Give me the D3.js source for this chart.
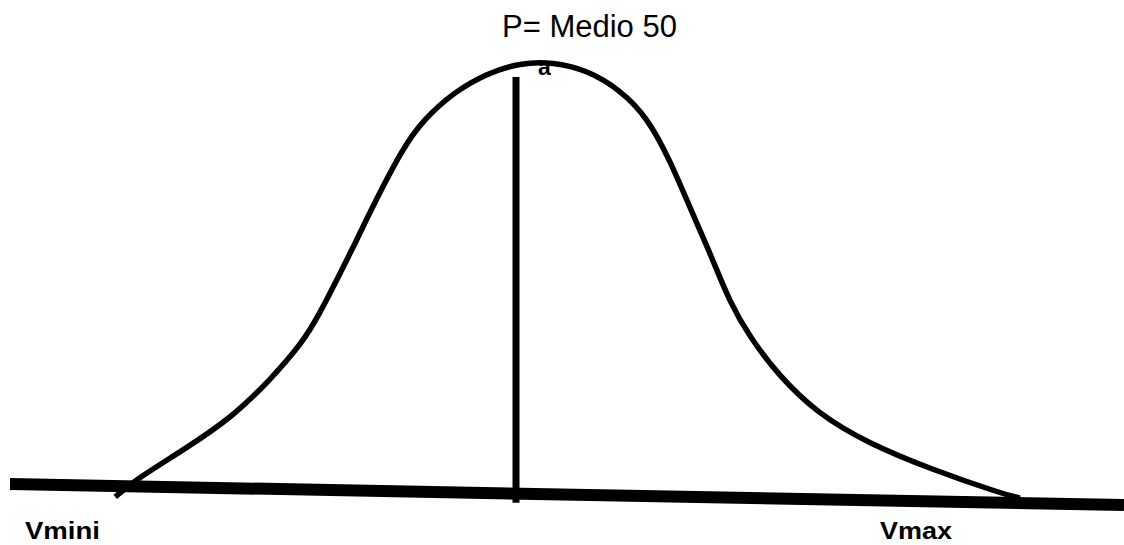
<!DOCTYPE html>
<html>
<head>
<meta charset="utf-8">
<script src="https://cdn.jsdelivr.net/npm/d3@7"></script>
<style>
  html, body { margin: 0; padding: 0; background: #fff; }
  svg { display: block; }
  text { font-family: "Liberation Sans", Arial, sans-serif; fill: #000; }
</style>
</head>
<body>
<script>
// Bell curve sketch: value axis from Vmini to Vmax, mean marked at 50.
const curveX = [-0.1, 2.6, 8.4, 14.6, 19.25, 23.4, 25.5, 27.6, 30.1, 31.75, 35.9, 38.4, 42.1, 46.4, 50.5,
                54.6, 58.9, 63.0, 66.4, 69.25, 72.4, 74.25, 76.75, 79.25, 82.75, 87.6, 93.9, 102.1, 110.5, 113.0];
const curveY = [-1.6, 2.6, 9.3, 17.1, 25.7, 34.6, 41.4, 49.1, 58.4, 65.0, 80.1, 86.4, 92.8, 97.4, 99.8,
                100.0, 98.1, 93.5, 87.1, 77.1, 63.1, 55.4, 43.7, 35.7, 26.9, 18.0, 11.0, 4.7, -0.7, -1.9];

// Base axis (slightly tilted) and the mean marker
const axisX = [-13.25, 126];
const axisY = [1.4, -3.5];
const meanX = 50;
const meanY = [96.5, -3.0];

const labels = { title: "P= Medio 50", peak: "a", min: "Vmini", max: "Vmax" };

const W = 1124, H = 545;
const x = d3.scaleLinear().domain([0, 100]).range([116, 916]);
const y = d3.scaleLinear().domain([0, 100]).range([490, 62]);

const svg = d3.select("body").append("svg").attr("width", W).attr("height", H);

// Labels drawn first so strokes sit on top
svg.append("text").attr("x", 502).attr("y", 37)
  .attr("font-size", 31).text(labels.title);
svg.append("text").attr("x", 538).attr("y", 75)
  .attr("font-size", 23).attr("font-weight", "bold").text(labels.peak);
svg.append("text").attr("x", 25).attr("y", 539)
  .attr("font-size", 24).attr("font-weight", "bold")
  .attr("textLength", 75).attr("lengthAdjust", "spacingAndGlyphs").text(labels.min);
svg.append("text").attr("x", 880).attr("y", 539)
  .attr("font-size", 24).attr("font-weight", "bold")
  .attr("textLength", 72).attr("lengthAdjust", "spacingAndGlyphs").text(labels.max);

// Base axis
svg.append("line")
  .attr("x1", x(axisX[0])).attr("y1", y(axisY[0]))
  .attr("x2", x(axisX[1])).attr("y2", y(axisY[1]))
  .attr("stroke", "#000").attr("stroke-width", 12);

// Mean line
svg.append("line")
  .attr("x1", x(meanX)).attr("y1", y(meanY[0]))
  .attr("x2", x(meanX)).attr("y2", y(meanY[1]))
  .attr("stroke", "#000").attr("stroke-width", 7);

// Bell curve, smoothed through the traced points
const pts = curveX.map((v, i) => [v, curveY[i]]);
const line = d3.line().x(d => x(d[0])).y(d => y(d[1])).curve(d3.curveBasis);
svg.append("path").datum(pts)
  .attr("d", line)
  .attr("fill", "none").attr("stroke", "#000").attr("stroke-width", 5.5)
  .attr("stroke-linejoin", "round");
</script>
</body>
</html>
